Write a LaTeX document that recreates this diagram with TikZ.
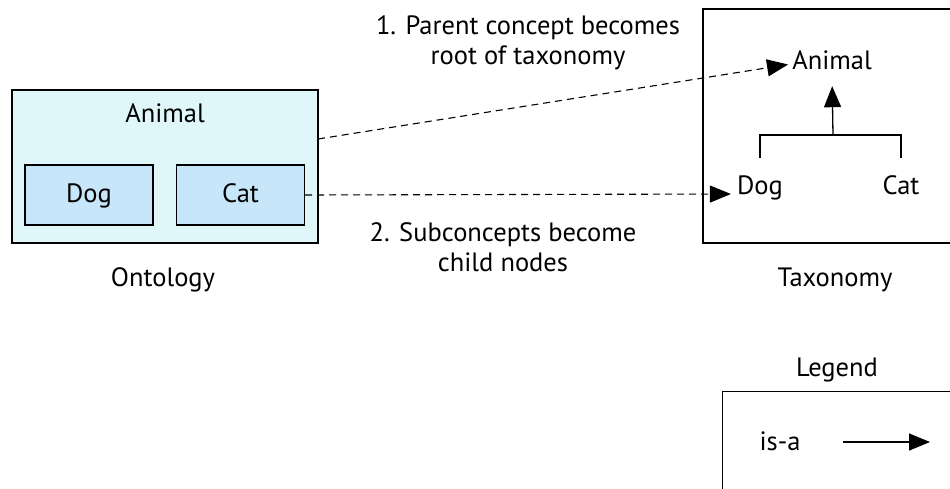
\documentclass[tikz,border=0pt]{standalone}
\usepackage{fontspec}
\setmainfont{PT Sans}
\usetikzlibrary{arrows.meta}
\definecolor{ontofill}{HTML}{E0F7FA}
\definecolor{conceptfill}{HTML}{C8E6FA}
\begin{document}
\begin{tikzpicture}[x=1pt,y=-1pt,
  every node/.style={font=\fontsize{26.5}{30}\selectfont},
  frame/.style={draw=black, line width=1.2pt},
  concept/.style={frame, fill=conceptfill, minimum width=128pt, minimum height=60pt, inner sep=0pt, text height=18pt, text depth=4pt},
  term/.style={inner sep=0pt, text height=19pt, text depth=6pt},
  caption/.style={align=center, inner sep=0pt},
  flow/.style={line width=1.1pt, dash pattern=on 7pt off 5pt, -{Triangle[length=21pt,width=17pt]}},
  isa/.style={line width=1.3pt, -{Triangle[length=21pt,width=17pt]}}]
\clip (0,0) rectangle (950,488);

% Ontology: parent concept with its subconcepts
\node[frame, fill=ontofill, minimum width=306pt, minimum height=153pt, inner sep=0pt] (onto) at (165,166.5) {};
\node[term] (oanimal) at (165,116) {Animal};
\node[concept] (odog) at (89,195) {Dog};
\node[concept] (ocat) at (240.5,195) {Cat};
\node[caption] (ontolabel) at (163,280) {Ontology};

% Taxonomy frame (runs past the right edge)
\node[frame, minimum width=300pt, minimum height=234pt, inner sep=0pt] (taxo) at (853,126) {};
\node[caption] (taxolabel) at (835,280) {Taxonomy};
\node[term, anchor=base] (tanimal) at (832,69) {Animal};
\node[term, anchor=base] (tdog) at (760,194) {Dog};
\node[term, anchor=base] (tcat) at (901,194) {Cat};
\coordinate (bar) at (833,135);
\coordinate (dogtop) at (760,158);
\coordinate (cattop) at (901,158);
\draw[line width=1.3pt] (dogtop) |- (bar) -| (cattop);
\draw[isa, shorten >=11pt] (bar) -- (tanimal.south);

% Mapping steps
\coordinate (ontoout) at (318,139);
\draw[flow] (ontoout) -- ([xshift=-4pt,yshift=-2pt]tanimal.west);
\draw[flow] (ocat.east) -- ([xshift=-6pt]tdog.base west);
\node[caption] (step1) at (528,43) {1. Parent concept becomes\\root of taxonomy};
\node[caption] (step2) at (503,247) {2. Subconcepts become\\child nodes};

% Legend
\node[caption] (legendlabel) at (837,370) {Legend};
\node[frame, minimum width=260pt, minimum height=130pt, inner sep=0pt, anchor=north west] (legend) at (722,391) {};
\node[term] (isalabel) at (780,444) {is-a};
\coordinate (isastart) at (843,442);
\coordinate (isaend) at (930,442);
\draw[isa] (isastart) -- (isaend);
\end{tikzpicture}
\end{document}
